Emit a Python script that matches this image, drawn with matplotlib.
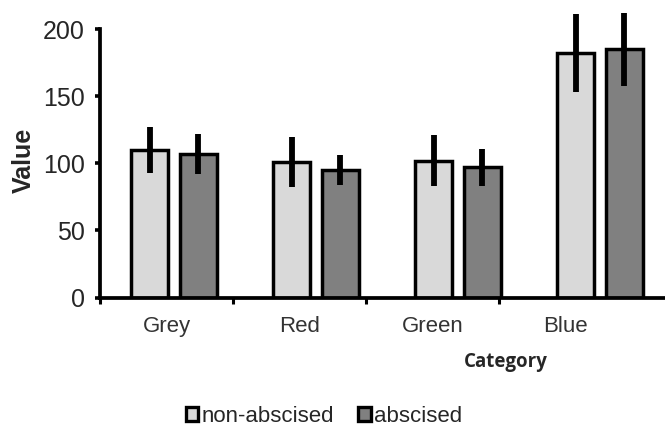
import matplotlib.pyplot as plt
import matplotlib.patches as mpatches
import numpy as np

# --- data ---
categories = ['Grey', 'Red', 'Green', 'Blue']
non_abscised = [110, 101, 102, 182]
non_abscised_err = [17.5, 18.5, 19, 29]
abscised = [107, 95, 97, 185]
abscised_err = [15, 11, 14, 27]
series_names = ['non-abscised', 'abscised']

# --- style ---
LIGHT = '#d9d9d9'
DARK = '#808080'
FONT = ['Liberation Sans', 'DejaVu Sans']
plt.rcParams['font.family'] = FONT

fig = plt.figure(figsize=(6.65, 4.30), dpi=100)
ax = fig.add_axes([0.1504, 0.308, 0.8496, 0.624])

x = np.arange(len(categories))
width = 0.26
offset = 0.172

err_kw = dict(ecolor='black', elinewidth=4.2, capsize=0)
b1 = ax.bar(x - offset, non_abscised, width, yerr=non_abscised_err, color=LIGHT,
            edgecolor='black', linewidth=2.5, error_kw=err_kw, zorder=2)
b2 = ax.bar(x + offset, abscised, width, yerr=abscised_err, color=DARK,
            edgecolor='black', linewidth=2.5, error_kw=err_kw, zorder=2)
for cont in (b1, b2):
    for coll in cont.errorbar.lines[2]:
        coll.set_clip_on(False)
        coll.set_zorder(3)

left = -0.521
ax.set_xlim(left, 3.458)
ax.set_ylim(0, 200)

# category labels and group boundary ticks (slightly narrower spacing than bars, as in the original)
step = 133 / 142
ax.set_xticks([left + step * k for k in range(4)])
ax.set_xticklabels([])
ax.set_xticks([left + step * (k + 0.5) for k in range(4)], minor=True)
ax.set_xticklabels(categories, minor=True, fontsize=16, color='#333333')
ax.tick_params(axis='x', which='major', direction='out', length=4.5, width=2.2, color='black')
ax.tick_params(axis='x', which='minor', length=0, pad=13)

ax.set_yticks([0, 50, 100, 150, 200])
ax.tick_params(axis='y', direction='out', length=3.8, width=2.6, labelsize=18,
               labelcolor='#262626', pad=7)

for s in ['top', 'right']:
    ax.spines[s].set_visible(False)
for s in ['left', 'bottom']:
    ax.spines[s].set_linewidth(2.7)

fig.text(24 / 665, 1 - 160 / 430, 'Value', rotation=90, fontsize=18, fontweight='bold',
         ha='center', va='center', color='#262626')
fig.text(506 / 665, 1 - 362 / 430, 'Category', fontsize=13.5, fontweight='bold',
         ha='center', va='center', color='#262626', family=['Open Sans', 'DejaVu Sans'])

handles = [mpatches.Patch(facecolor=LIGHT, edgecolor='black', linewidth=2.4),
           mpatches.Patch(facecolor=DARK, edgecolor='black', linewidth=2.4)]
fig.legend(handles, series_names, loc='center', bbox_to_anchor=(324 / 665, 1 - 416 / 430),
           ncol=2, frameon=False, fontsize=16, handlelength=0.55, handleheight=0.6,
           handletextpad=0.15, columnspacing=1.1, labelcolor='#262626')

fig.savefig('out.png', dpi=100)
